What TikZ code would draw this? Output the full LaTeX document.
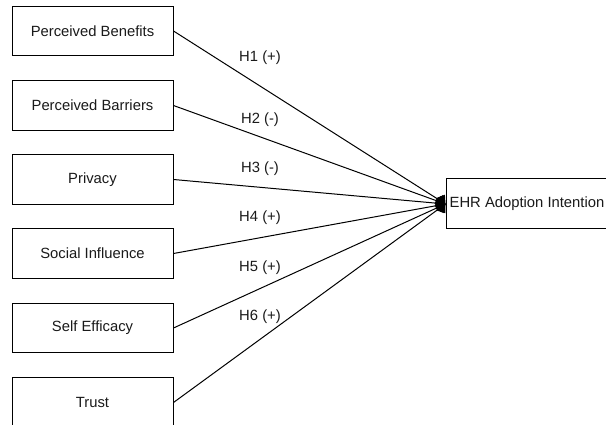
\documentclass[tikz,border=0pt]{standalone}
\usepackage{fontspec}
\setmainfont{Liberation Sans}
\usetikzlibrary{arrows.meta}
\definecolor{txt}{HTML}{1A1A1A}
\begin{document}
\begin{tikzpicture}[x=1pt,y=-1pt,
  box/.style={draw=black,line width=1pt,minimum width=161pt,minimum height=49.5pt,inner sep=0pt,
    text=txt,font=\fontsize{14.8}{17}\selectfont},
  lbl/.style={inner sep=0pt,text=txt,font=\fontsize{14.8}{17}\selectfont},
  link/.style={draw=black,line width=1pt,-{Diamond[length=11pt,width=15pt]}}]
\useasboundingbox (0,0) rectangle (606,425);
\fill[white] (0,0) rectangle (606,425);
\node[box] (pb) at (92.5,31) {Perceived Benefits};
\node[box] (pbar) at (92.5,105.5) {Perceived Barriers};
\node[box] (priv) at (92.5,179.5) {Privacy};
\node[box] (soc) at (92.5,253.5) {Social Influence};
\node[box] (self) at (92.5,328) {Self Efficacy};
\node[box] (trust) at (92.5,402.5) {Trust};
\node[box,minimum width=162pt,minimum height=50pt] (ehr) at (527,204) {EHR Adoption Intention};
\foreach \s in {pb,pbar,priv,soc,self,trust}{
  \draw[link] (\s.east) -- (ehr.west);
}
\node[lbl] (h1) at (260,57.5) {H1 (+)};
\node[lbl] (h2) at (260,119.5) {H2 (-)};
\node[lbl] (h3) at (260,168.8) {H3 (-)};
\node[lbl] (h4) at (260,217.8) {H4 (+)};
\node[lbl] (h5) at (260,267.8) {H5 (+)};
\node[lbl] (h6) at (260,317) {H6 (+)};
\end{tikzpicture}
\end{document}
